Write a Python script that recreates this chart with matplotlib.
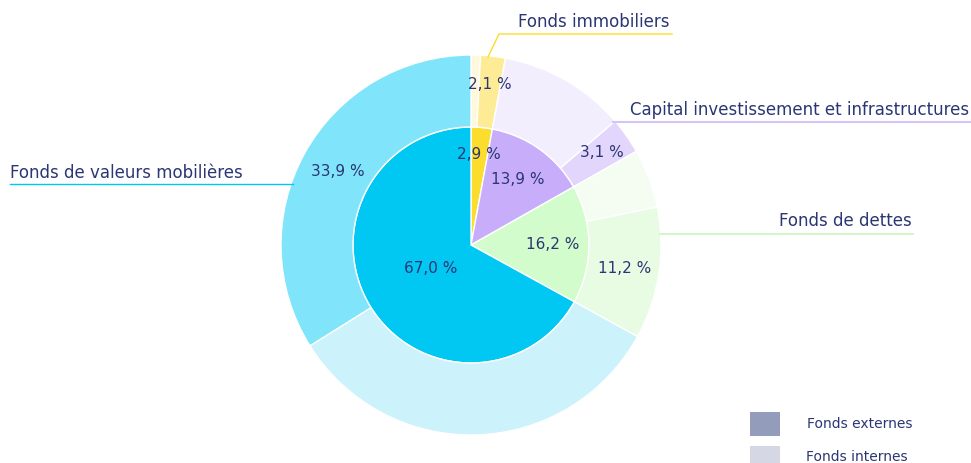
import matplotlib
matplotlib.use("Agg")
import matplotlib.pyplot as plt
from matplotlib.patches import Rectangle
import numpy as np

categories = ["Fonds immobiliers", "Capital investissement et infrastructures",
              "Fonds de dettes", "Fonds de valeurs mobilières"]
total_values = [2.9, 13.9, 16.2, 67.0]
internal_values = [0.8, 10.8, 5.0, 33.1]
external_values = [2.1, 3.1, 11.2, 33.9]
legend_labels = ["Fonds externes", "Fonds internes"]

inner_colors = ["#FCDC2C", "#C8AEFA", "#D2FCCB", "#00C8F2"]
ext_colors = ["#FDEB96", "#E3D6FC", "#E7FCE3", "#80E4FA"]
int_colors = ["#FFF8DC", "#F3EEFE", "#F5FDF3", "#CCF2FB"]
TXT = "#2B3674"
FONT = "DejaVu Sans"

W, H = 971, 463
fig = plt.figure(figsize=(W / 100, H / 100), dpi=100)
ax = fig.add_axes([0, 0, 1, 1])
ax.set_xlim(0, W)
ax.set_ylim(0, H)
ax.axis("off")

def Y(yp):
    return H - yp

cx, cy = 471, Y(245)
R_in, R_out = 118, 190

ax.pie(total_values, radius=R_in, center=(cx, cy), startangle=90, counterclock=False,
       colors=inner_colors, wedgeprops=dict(edgecolor="white", linewidth=1))

outer_vals, outer_cols = [], []
for i in range(len(categories)):
    outer_vals += [internal_values[i], external_values[i]]
    outer_cols += [int_colors[i], ext_colors[i]]
ax.pie(outer_vals, radius=R_out, center=(cx, cy), startangle=90, counterclock=False,
       colors=outer_cols, wedgeprops=dict(width=R_out - R_in, edgecolor="white", linewidth=1))
ax.set_xlim(0, W)
ax.set_ylim(0, H)
ax.set_aspect("equal")

def fmt(v):
    return f"{v:.1f}".replace(".", ",") + " %"

def pos(frac_mid, r):
    a = np.deg2rad(90 - frac_mid * 3.6)
    return cx + r * np.cos(a), cy + r * np.sin(a)

# inner labels
cum = 0
inner_r = [91, 81, 82, 47]
for i, v in enumerate(total_values):
    mid = cum + v / 2
    x, y = pos(mid, inner_r[i])
    ax.text(x, y, fmt(v), ha="center", va="center", fontsize=11, color=TXT, family=FONT)
    cum += v

# outer external labels
cum = 0
outer_r = [162, 160, 155, 152]
for i in range(len(categories)):
    cum += internal_values[i]
    mid = cum + external_values[i] / 2
    x, y = pos(mid, outer_r[i])
    ax.text(x, y, fmt(external_values[i]), ha="center", va="center", fontsize=11, color=TXT, family=FONT)
    cum += external_values[i]

# category annotations
line_col = ["#FCDC2C", "#D6C4F8", "#C8F5C0", "#00C8F2"]
ax.plot([488, 499, 672], [Y(57), Y(34), Y(34)], color=line_col[0], lw=1)
ax.text(594, Y(22), categories[0], ha="center", va="center", fontsize=12, color=TXT, family=FONT)
ax.plot([613, 971], [Y(122), Y(122)], color=line_col[1], lw=1.5)
ax.text(969, Y(110), categories[1], ha="right", va="center", fontsize=12, color=TXT, family=FONT)
ax.plot([660, 913], [Y(234), Y(234)], color=line_col[2], lw=1.2)
ax.text(912, Y(221), categories[2], ha="right", va="center", fontsize=12, color=TXT, family=FONT)
ax.plot([10, 293], [Y(184), Y(184)], color=line_col[3], lw=1)
ax.text(10, Y(173), categories[3], ha="left", va="center", fontsize=12, color=TXT, family=FONT)

# legend
leg_cols = ["#939CBB", "#D5D7E4"]
ax.add_patch(Rectangle((750, Y(436)), 30, 24, facecolor=leg_cols[0], edgecolor="none"))
ax.add_patch(Rectangle((750, Y(463)), 30, 17, facecolor=leg_cols[1], edgecolor="none"))
ax.text(807, Y(424), legend_labels[0], ha="left", va="center", fontsize=10, color=TXT, family=FONT)
ax.text(806, Y(457), legend_labels[1], ha="left", va="center", fontsize=10, color=TXT, family=FONT)

fig.savefig("out.png", dpi=100)
